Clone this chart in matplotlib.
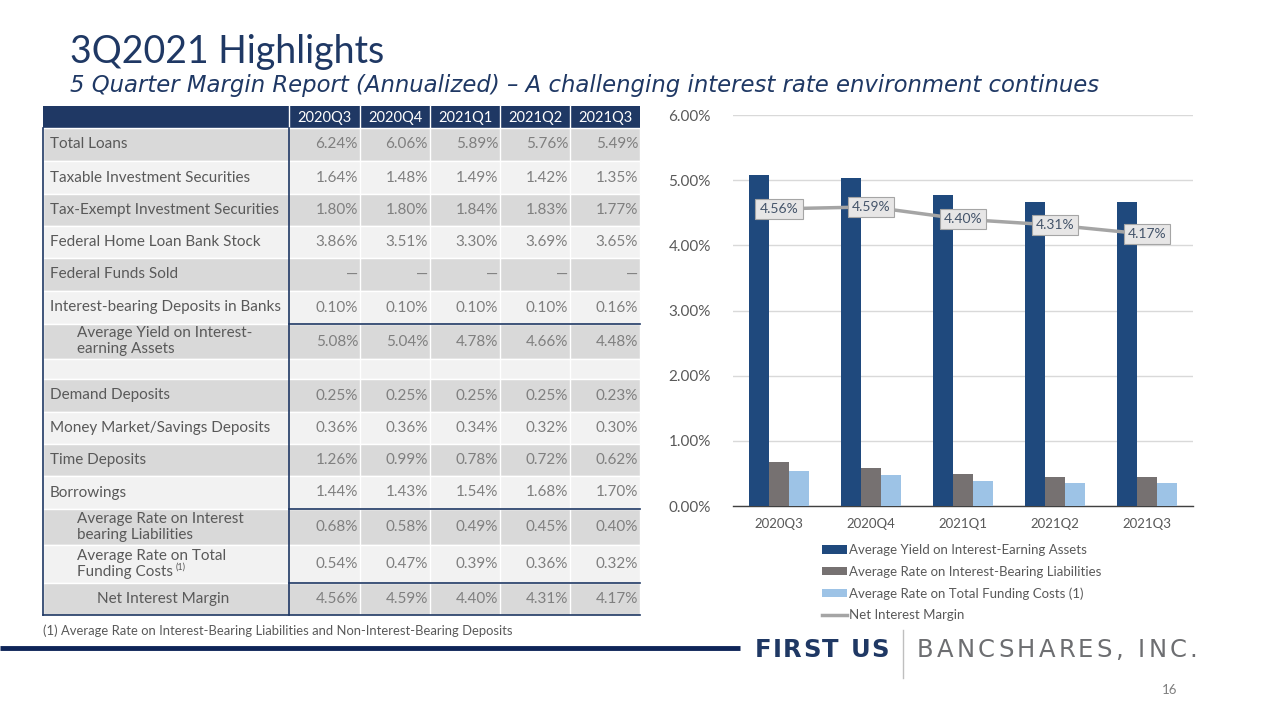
import matplotlib
matplotlib.use("Agg")
import matplotlib.pyplot as plt
from matplotlib.patches import Rectangle
import numpy as np

plt.rcParams['font.family'] = ['Lato', 'DejaVu Sans']

# ---------------- data ----------------
quarters = ["2020Q3", "2020Q4", "2021Q1", "2021Q2", "2021Q3"]

total_loans = ["6.24%", "6.06%", "5.89%", "5.76%", "5.49%"]
taxable_sec = ["1.64%", "1.48%", "1.49%", "1.42%", "1.35%"]
tax_exempt_sec = ["1.80%", "1.80%", "1.84%", "1.83%", "1.77%"]
fhlb_stock = ["3.86%", "3.51%", "3.30%", "3.69%", "3.65%"]
fed_funds = ["\u2014", "\u2014", "\u2014", "\u2014", "\u2014"]
ib_deposits = ["0.10%", "0.10%", "0.10%", "0.10%", "0.16%"]
avg_yield = ["5.08%", "5.04%", "4.78%", "4.66%", "4.48%"]
demand_dep = ["0.25%", "0.25%", "0.25%", "0.25%", "0.23%"]
mm_savings = ["0.36%", "0.36%", "0.34%", "0.32%", "0.30%"]
time_dep = ["1.26%", "0.99%", "0.78%", "0.72%", "0.62%"]
borrowings = ["1.44%", "1.43%", "1.54%", "1.68%", "1.70%"]
avg_rate_ibl = ["0.68%", "0.58%", "0.49%", "0.45%", "0.40%"]
avg_rate_tfc = ["0.54%", "0.47%", "0.39%", "0.36%", "0.32%"]
nim_row = ["4.56%", "4.59%", "4.40%", "4.31%", "4.17%"]

row_labels = ["Total Loans", "Taxable Investment Securities", "Tax-Exempt Investment Securities",
              "Federal Home Loan Bank Stock", "Federal Funds Sold", "Interest-bearing Deposits in Banks",
              "Average Yield on Interest-\nearning Assets", "",
              "Demand Deposits", "Money Market/Savings Deposits", "Time Deposits", "Borrowings",
              "Average Rate on Interest\nbearing Liabilities", "Average Rate on Total\nFunding Costs",
              "Net Interest Margin"]
row_values = [total_loans, taxable_sec, tax_exempt_sec, fhlb_stock, fed_funds, ib_deposits,
              avg_yield, ["", "", "", "", ""], demand_dep, mm_savings, time_dep, borrowings,
              avg_rate_ibl, avg_rate_tfc, nim_row]

# chart series (as drawn in the chart)
yield_bars = [5.08, 5.04, 4.78, 4.66, 4.66]
liab_bars = [0.68, 0.58, 0.49, 0.45, 0.45]
funding_bars = [0.54, 0.47, 0.39, 0.36, 0.36]
nim_line = [4.56, 4.59, 4.40, 4.31, 4.17]

series_names = ["Average Yield on Interest-Earning Assets",
                "Average Rate on Interest-Bearing Liabilities",
                "Average Rate on Total Funding Costs (1)",
                "Net Interest Margin"]

# ---------------- styling ----------------
NAVY = "#1F3864"
BAR_NAVY = "#1F497D"
BAR_GRAY = "#767171"
BAR_LBLUE = "#9DC3E6"
LINE_GRAY = "#A5A5A5"
TXT = "#595959"
VAL = "#7F7F7F"
DARK_ROW = "#D9D9D9"
LIGHT_ROW = "#F2F2F2"

fig = plt.figure(figsize=(12.8, 7.2), dpi=100)
bg = fig.add_axes([0, 0, 1, 1])
bg.set_xlim(0, 1280)
bg.set_ylim(720, 0)
bg.axis('off')
renderer = fig.canvas.get_renderer()


def text_width(t):
    bb = t.get_window_extent(renderer=renderer)
    return bb.width


def spaced_text(x, y, s, spacing, **kw):
    cx = x
    for ch in s:
        t = bg.text(cx, y, ch, ha='left', va='baseline', **kw)
        if ch == " ":
            probe = bg.text(0, 0, "n", **kw)
            w = text_width(probe) * 0.55
            probe.remove()
            t.remove()
        else:
            w = text_width(t)
        cx += w + spacing
    return cx


# title
bg.text(70, 63, "3Q2021 Highlights", fontsize=27, color=NAVY, va='baseline', ha='left')
bg.text(70, 92, "5 Quarter Margin Report (Annualized) \u2013 A challenging interest rate environment continues",
        fontsize=16.4, color=NAVY, style='italic', va='baseline', ha='left', family='DejaVu Sans')

# ---------------- table ----------------
x_left, x_lab = 43, 289
col_edges = [289, 360, 430, 500, 570, 640]
hdr_top, hdr_bot = 106, 128
row_edges = [128, 161, 194, 226, 258, 291, 324, 359, 379, 412, 444, 476, 509, 545, 583, 615]
FS = 11

bg.add_patch(Rectangle((x_left, hdr_top), 640 - x_left, hdr_bot - hdr_top, facecolor=NAVY, edgecolor='none'))
for i, q in enumerate(quarters):
    cx = (col_edges[i] + col_edges[i + 1]) / 2
    bg.text(cx, (hdr_top + hdr_bot) / 2 + 1, q, color='white', fontsize=10.5, ha='center', va='center')
    bg.plot([col_edges[i], col_edges[i]], [hdr_top, hdr_bot], color='white', lw=1)

for r in range(len(row_labels)):
    y0, y1 = row_edges[r], row_edges[r + 1]
    fc = DARK_ROW if r % 2 == 0 else LIGHT_ROW
    bg.add_patch(Rectangle((x_left, y0), 640 - x_left, y1 - y0, facecolor=fc, edgecolor='white', lw=1))
    ym = (y0 + y1) / 2
    lab = row_labels[r]
    if r in (6, 12, 13):
        l1, l2 = lab.split("\n")
        bg.text(77, ym - 8, l1, color=TXT, fontsize=FS, ha='left', va='center')
        t2 = bg.text(77, ym + 8, l2, color=TXT, fontsize=FS, ha='left', va='center')
        if r == 13:
            bg.text(77 + text_width(t2) + 3, ym + 3, "(1)", color=TXT, fontsize=6.5,
                    ha='left', va='center')
    elif r == 14:
        bg.text(163, ym, lab, color=TXT, fontsize=FS, ha='center', va='center')
    else:
        bg.text(50, ym, lab, color=TXT, fontsize=FS, ha='left', va='center')
    for c in range(5):
        bg.text(col_edges[c + 1] - 2, ym, row_values[r][c], color=VAL, fontsize=FS,
                ha='right', va='center')
    for c in range(1, 5):
        bg.plot([col_edges[c], col_edges[c]], [y0, y1], color='white', lw=1)

# table borders
bg.plot([x_left, x_left], [hdr_bot, 615], color=NAVY, lw=1.2)
bg.plot([x_lab, x_lab], [hdr_bot, 615], color=NAVY, lw=1.2)
for yy in (324, 509, 583):
    bg.plot([x_lab, 640], [yy, yy], color=NAVY, lw=1.2)
bg.plot([x_left, 640], [615, 615], color=NAVY, lw=1.2)

bg.text(43, 631, "(1) Average Rate on Interest-Bearing Liabilities and Non-Interest-Bearing Deposits",
        color=TXT, fontsize=9.4, ha='left', va='center')

# footer
bg.plot([0, 740], [648, 648], color="#0E2458", lw=3.5, solid_capstyle='butt')
spaced_text(755, 657, "FIRST US", 1.3, color=NAVY, fontsize=17.5, fontweight='bold', family='DejaVu Sans')
bg.plot([903, 903], [630, 678], color="#BFBFBF", lw=1)
spaced_text(917, 657, "BANCSHARES, INC.", 3.2, color="#6D6E71", fontsize=17.5, family='DejaVu Sans')
bg.text(1170, 690, "16", color="#7F7F7F", fontsize=9.5, ha='center', va='center')

# ---------------- chart ----------------
ax = fig.add_axes([733 / 1280, (720 - 506) / 720, 460 / 1280, (506 - 115) / 720])
x = np.arange(len(quarters))
w = 0.22
b1 = ax.bar(x - w, yield_bars, w, color=BAR_NAVY, label=series_names[0], zorder=3)
b2 = ax.bar(x, liab_bars, w, color=BAR_GRAY, label=series_names[1], zorder=3)
b3 = ax.bar(x + w, funding_bars, w, color=BAR_LBLUE, label=series_names[2], zorder=3)
l1, = ax.plot(x, nim_line, color=LINE_GRAY, lw=2.5, label=series_names[3], zorder=4)
for xi, v in zip(x, nim_line):
    ax.text(xi, v, f"{v:.2f}%", ha='center', va='center', fontsize=10, color="#44546A", zorder=5,
            bbox=dict(boxstyle='square,pad=0.3', facecolor="#E7E6E6", edgecolor="#A5A5A5", lw=0.8))

ax.set_xlim(-0.5, 4.5)
ax.set_ylim(0, 6)
ax.set_yticks(np.arange(0, 7, 1))
ax.set_yticklabels([f"{t:.2f}%" for t in np.arange(0, 7, 1)], fontsize=11, color=TXT)
ax.set_xticks(x)
ax.set_xticklabels(quarters, fontsize=9.5, color=TXT)
ax.tick_params(length=0, pad=9)
ax.tick_params(axis='y', pad=16)
ax.grid(axis='y', color="#D9D9D9", lw=1, zorder=0)
for s in ("top", "right", "left"):
    ax.spines[s].set_visible(False)
ax.spines['bottom'].set_color("#404040")
ax.spines['bottom'].set_linewidth(1)
ax.set_facecolor('none')

ax.legend(handles=[b1, b2, b3, l1], labels=series_names,
          loc='upper left', bbox_to_anchor=(822 / 1280, (720 - 544) / 720), bbox_transform=fig.transFigure,
          frameon=False, fontsize=9.5, labelcolor=TXT, handlelength=1.9, handleheight=0.6,
          labelspacing=0.72, borderpad=0, handletextpad=0.15, borderaxespad=0)

fig.savefig("out.png", dpi=100)
